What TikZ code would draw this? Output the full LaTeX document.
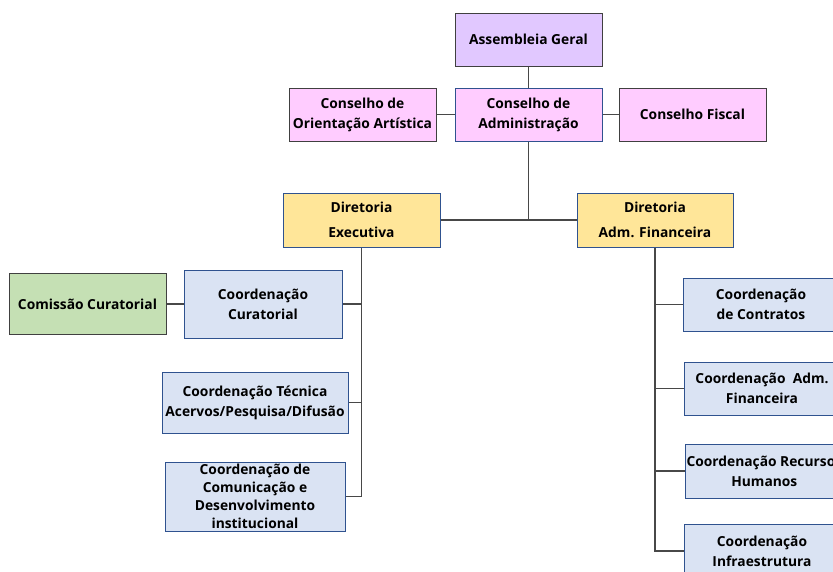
\documentclass[tikz,border=0pt]{standalone}
\usepackage{fontspec}
\setmainfont{Open Sans}
\usepackage{xcolor}
\usetikzlibrary{positioning}
\definecolor{lilas}{RGB}{225,200,255}
\definecolor{rosa}{RGB}{255,204,255}
\definecolor{amarelo}{RGB}{255,230,153}
\definecolor{verde}{RGB}{197,224,180}
\definecolor{azulclaro}{RGB}{218,227,243}
\definecolor{azul}{RGB}{47,82,143}
\definecolor{cinza}{RGB}{64,64,64}
\definecolor{traco}{RGB}{72,72,72}

\begin{document}
\begin{tikzpicture} [
       x=1pt, y=-1pt,
       caixa/.style={draw=cinza, line width=1pt, align=center, inner sep=1pt,
               font=\bfseries\fontsize{13.8}{20}\selectfont},
       conselho/.style={caixa, fill=rosa, minimum width=147pt, minimum height=53pt},
       diretoria/.style={caixa, fill=amarelo, draw=azul, minimum width=157pt,
               minimum height=54pt, font=\bfseries\fontsize{13.8}{25}\selectfont},
       coord/.style={caixa, fill=azulclaro, draw=azul, minimum height=53pt},
       line/.style={draw=traco, line width=1.4pt},
       ]
       \useasboundingbox (0,0) rectangle (833,571);
       \clip (0,0) rectangle (833,571);
       \node (ag) [caixa, fill=lilas, minimum width=147pt, minimum height=53pt] at (528.5,39.5) {Assembleia Geral};
       \node (ca) [conselho, draw=azul] at (528.5,114.5) {Conselho de\\Administração};
       \node (coa) [conselho, left=18pt of ca] {Conselho de\\Orientação Artística};
       \node (cf) [conselho, right=16pt of ca] {Conselho Fiscal};
       \node (de) [diretoria] at (361.5,220) {Diretoria\\Executiva};
       \node (daf) [diretoria, minimum width=156pt] at (655,220) {Diretoria\\Adm. Financeira};
       \node (cur) [coord, minimum width=158pt, minimum height=68pt] at (263,304) {Coordenação\\Curatorial};
       \node (comis) [caixa, fill=verde, minimum width=157pt, minimum height=61pt, left=17pt of cur] {Comissão Curatorial};
       \node (tec) [coord, minimum width=186pt, minimum height=61pt] at (255,402.5) {Coordenação Técnica\\Acervos/Pesquisa/Difusão};
       \node (com) [coord, minimum width=180pt, minimum height=69pt,
               font=\bfseries\fontsize{13.8}{18}\selectfont] at (255,496.5) {Coordenação de\\Comunicação e\\Desenvolvimento\\institucional};
       \node (contr) [coord, minimum width=156pt] at (761,304.5) {Coordenação\\de Contratos};
       \node (admf) [coord, minimum width=156pt] at (762,388.5) {Coordenação~ Adm.\\Financeira};
       \node (rh) [coord, minimum width=156pt, minimum height=54pt, anchor=west] at (685,471) {Coordenação Recursos\\Humanos};
       \node (infra) [coord, minimum width=156pt, minimum height=54pt] at (762,551) {Coordenação\\Infraestrutura};
       \begin{scope}[every path/.style=line]
       \path (ag) -- (ca);
       \path (coa.east) -- (ca.west |- coa.east);
       \path (ca.east) -- (cf.west |- ca.east);
       \path (ca.south) -- (ca.south |- de.east);
       \path (de.east) -- (daf.west);
       \path (de.south) |- (com.east);
       \path (cur.east) -- (cur.east -| de.south);
       \path (tec.east) -- (tec.east -| de.south);
       \path (comis) -- (cur);
       \path (daf.south) |- (infra.west);
       \path (contr.west) -- (contr.west -| daf.south);
       \path (admf.west) -- (admf.west -| daf.south);
       \path (rh.west) -- (rh.west -| daf.south);
       \end{scope}
\end{tikzpicture}
\end{document}
